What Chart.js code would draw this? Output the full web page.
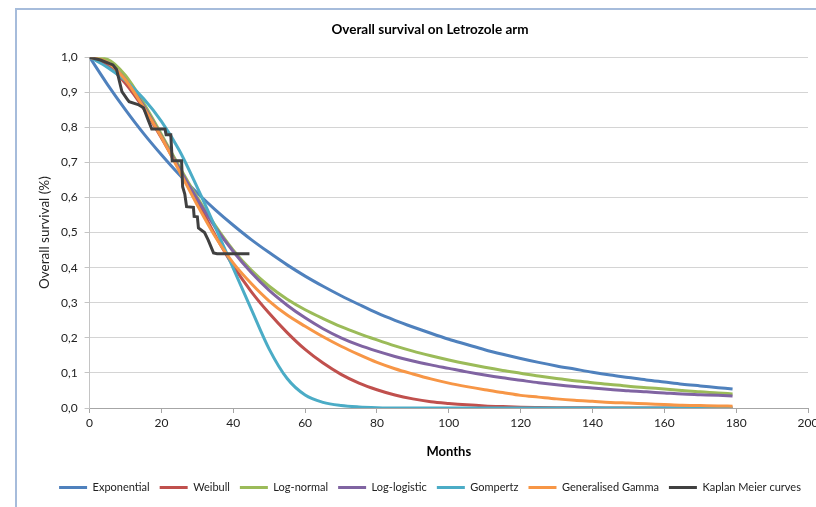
<!DOCTYPE html>
<html>
<head>
<meta charset="utf-8">
<script src="https://cdn.jsdelivr.net/npm/chart.js@4/dist/chart.umd.min.js"></script>
<style>
  html, body { margin: 0; padding: 0; background: #fff; overflow: hidden; }
  #frame {
    position: absolute; left: 15px; top: 8px; width: 900px; height: 600px;
    border-left: 2px solid #a6bcdb; border-top: 2px solid #a6bcdb;
  }
  #wrap { position: absolute; left: 0; top: 0; width: 845px; height: 507px; }
</style>
</head>
<body>
<div id="frame"></div>
<div id="wrap"><canvas id="survivalChart" width="845" height="507"></canvas></div>
<script>
// --- Data ---
const months = [0, 5, 10, 15, 20, 25, 30, 35, 40, 45, 50, 55, 60, 65, 70, 75, 80, 85, 90, 95,
  100, 105, 110, 115, 120, 125, 130, 135, 140, 145, 150, 155, 160, 165, 170, 175, 179];

const exponential = [1.0, 0.922, 0.850, 0.783, 0.722, 0.665, 0.613, 0.565, 0.521, 0.480,
  0.443, 0.408, 0.376, 0.347, 0.320, 0.295, 0.271, 0.250, 0.231, 0.213,
  0.196, 0.181, 0.166, 0.153, 0.141, 0.130, 0.120, 0.111, 0.102, 0.094,
  0.087, 0.080, 0.074, 0.068, 0.063, 0.058, 0.054];

const weibull = [1.0, 0.977, 0.925, 0.854, 0.770, 0.680, 0.588, 0.492, 0.405, 0.332,
  0.270, 0.215, 0.167, 0.128, 0.096, 0.071, 0.052, 0.037, 0.026, 0.018,
  0.013, 0.009, 0.006, 0.004, 0.0024, 0.0016, 0.001, 0.0006, 0.0004, 0.0002,
  0.0001, 0, 0, 0, 0, 0, 0];

const logNormal = [1.0, 0.994, 0.948, 0.870, 0.780, 0.688, 0.600, 0.520, 0.450, 0.393,
  0.347, 0.310, 0.280, 0.255, 0.232, 0.212, 0.194, 0.177, 0.162, 0.149,
  0.137, 0.126, 0.116, 0.107, 0.099, 0.091, 0.084, 0.078, 0.072, 0.067,
  0.062, 0.058, 0.054, 0.050, 0.046, 0.043, 0.040];

const logLogistic = [1.0, 0.984, 0.936, 0.862, 0.774, 0.682, 0.595, 0.515, 0.446, 0.386,
  0.335, 0.293, 0.257, 0.226, 0.200, 0.179, 0.162, 0.147, 0.134, 0.123,
  0.113, 0.103, 0.094, 0.086, 0.079, 0.072, 0.066, 0.061, 0.057, 0.053,
  0.049, 0.046, 0.043, 0.040, 0.038, 0.036, 0.034];

const gompertz = [1.0, 0.971, 0.933, 0.882, 0.817, 0.734, 0.628, 0.515, 0.398, 0.282,
  0.168, 0.084, 0.037, 0.016, 0.007, 0.003, 0.001, 0, 0, 0,
  0, 0, 0, 0, 0, 0, 0, 0, 0, 0,
  0, 0, 0, 0, 0, 0, 0];

const genGamma = [1.0, 0.985, 0.935, 0.858, 0.772, 0.675, 0.578, 0.488, 0.413, 0.355,
  0.305, 0.265, 0.233, 0.203, 0.176, 0.152, 0.130, 0.112, 0.097, 0.083,
  0.071, 0.061, 0.052, 0.044, 0.036, 0.031, 0.026, 0.022, 0.019, 0.016,
  0.014, 0.012, 0.010, 0.008, 0.007, 0.006, 0.005];

// Kaplan Meier (step points)
const kmMonths = [0, 3, 6.5, 7.5, 9, 10.5, 11, 13.5, 15, 16.3, 17.3, 21, 21.3, 22.6,
  23, 25.6, 25.9, 26.5, 27, 28.9, 29.1, 30, 30.3, 32, 33, 34.5, 35.5, 44.5];
const kmSurvival = [1.0, 0.992, 0.978, 0.965, 0.902, 0.880, 0.873, 0.865, 0.856, 0.821,
  0.795, 0.795, 0.779, 0.779, 0.705, 0.705, 0.631, 0.610, 0.574, 0.572,
  0.546, 0.545, 0.513, 0.500, 0.479, 0.442, 0.440, 0.440];

const xTickLabels = ["0", "20", "40", "60", "80", "100", "120", "140", "160", "180", "200"];
const yTickLabels = ["0,0", "0,1", "0,2", "0,3", "0,4", "0,5", "0,6", "0,7", "0,8", "0,9", "1,0"];

const seriesNames = ["Exponential", "Weibull", "Log-normal", "Log-logistic", "Gompertz",
  "Generalised Gamma", "Kaplan Meier curves"];
const seriesColors = ["#4f81bd", "#c0504d", "#9bbb59", "#8064a2", "#4bacc6", "#f79646", "#404040"];

// --- Build datasets ---
const fittedCurves = [exponential, weibull, logNormal, logLogistic, gompertz, genGamma];

const datasets = fittedCurves.map((values, i) => ({
  label: seriesNames[i],
  data: months.map((m, j) => ({ x: m, y: values[j] })),
  borderColor: seriesColors[i],
  backgroundColor: seriesColors[i],
  borderWidth: 3,
  pointRadius: 0,
  cubicInterpolationMode: "monotone",
  order: seriesNames.length - 1 - i, // later series drawn on top, like Excel
}));

datasets.push({
  label: seriesNames[6],
  data: kmMonths.map((m, j) => ({ x: m, y: kmSurvival[j] })),
  borderColor: seriesColors[6],
  backgroundColor: seriesColors[6],
  borderWidth: 3,
  pointRadius: 0,
  tension: 0,
  order: 0,
});

Chart.defaults.font.family = "Lato, 'Open Sans', sans-serif";
Chart.defaults.color = "#222";

const ctx = document.getElementById("survivalChart").getContext("2d");
new Chart(ctx, {
  type: "line",
  data: { datasets },
  options: {
    responsive: false,
    animation: false,
    layout: { padding: { left: 15, right: 0, top: 10, bottom: 4 } },
    plugins: {
      tooltip: { enabled: false },
      title: {
        display: true,
        text: "Overall survival on Letrozole arm",
        font: { size: 13.5, weight: "bold" },
        color: "#000",
        padding: { top: 12, bottom: 19 },
      },
      legend: {
        position: "bottom",
        labels: {
          usePointStyle: true,
          pointStyle: "line",
          pointStyleWidth: 28,
          font: { size: 11 },
          padding: 10,
          color: "#222",
          sort: (a, b) => a.datasetIndex - b.datasetIndex,
        },
      },
    },
    scales: {
      x: {
        type: "linear",
        min: 0,
        max: 200,
        ticks: {
          stepSize: 20,
          padding: 3,
          font: { size: 12 },
          callback: (value, index) => xTickLabels[index],
        },
        grid: { drawOnChartArea: false, drawTicks: true, tickLength: 5, tickColor: "#a6a6a6" },
        border: { color: "#a6a6a6", width: 1 },
        title: {
          display: true,
          text: "Months",
          font: { size: 13, weight: "bold" },
          color: "#000",
          padding: { top: 11, bottom: 12 },
        },
      },
      y: {
        min: 0,
        max: 1,
        ticks: {
          stepSize: 0.1,
          padding: 7,
          font: { size: 12 },
          callback: (value, index) => yTickLabels[index],
        },
        grid: { color: "#d4d4d4", tickLength: 5, tickColor: "#c4c4c4" },
        border: { color: "#c4c4c4", width: 1 },
        title: {
          display: true,
          text: "Overall survival (%)",
          font: { size: 13.5 },
          padding: { top: 22, bottom: 0 },
        },
        afterFit: (scale) => { scale.width = 74.6; },
      },
      // empty axis on the right keeps the title and legend centred like the original
      yRight: {
        position: "right",
        display: true,
        grid: { display: false },
        border: { display: false },
        ticks: { display: false },
        afterFit: (scale) => { scale.width = 37; },
      },
    },
  },
});
</script>
</body>
</html>
